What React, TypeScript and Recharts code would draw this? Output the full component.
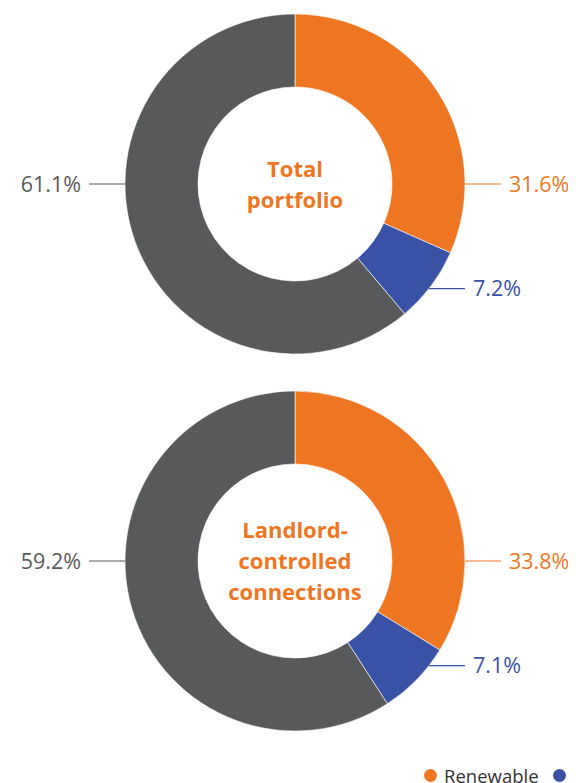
import React from "react";
import { PieChart, Pie, Cell, Legend } from "recharts";

const CATEGORIES = ["Renewable", "Non-renewable", "Unknown"];
const TOTAL_PORTFOLIO = [31.6, 7.2, 61.1];
const LANDLORD_CONTROLLED = [33.8, 7.1, 59.2];
const CENTER_TITLES = [
  ["Total", "portfolio"],
  ["Landlord-", "controlled", "connections"],
];

const COLORS = ["#EE7623", "#3A52A5", "#58595B"];
const LABEL_COLORS = ["#EE7623", "#3A52A5", "#5A5A5A"];
// angle (recharts degrees) where each slice's label leader line starts
const LABEL_ANGLES = [0, -38, -180];
const FONT = "'Open Sans', 'Noto Sans', sans-serif";

const OUTER = 170;
const INNER = 97;

const toRows = (values: number[]) =>
  CATEGORIES.map((name, i) => ({ name, value: values[i] }));

const renderLabel = (props: any) => {
  const { cx, cy, outerRadius, index, value } = props;
  const a = (LABEL_ANGLES[index] * Math.PI) / 180;
  const x = cx + outerRadius * Math.cos(a);
  const y = cy - outerRadius * Math.sin(a);
  const right = Math.cos(a) >= 0;
  const sign = right ? 1 : -1;
  const endX = x + sign * 36;
  return (
    <g key={`lbl-${index}`}>
      <line
        x1={x}
        y1={y}
        x2={endX}
        y2={y}
        stroke={LABEL_COLORS[index]}
        strokeWidth={1.2}
      />
      <text
        x={endX + sign * 8}
        y={y}
        dy={7.5}
        textAnchor={right ? "start" : "end"}
        fill={LABEL_COLORS[index]}
        fontSize={21.5}
        fontFamily={FONT}
      >
        {value.toFixed(1)}%
      </text>
    </g>
  );
};

const CenterTitle = ({ cx, cy, lines }: { cx: number; cy: number; lines: string[] }) => {
  const lh = 31;
  const top = cy - ((lines.length - 1) * lh) / 2;
  return (
    <text
      textAnchor="middle"
      fill="#EE7623"
      fontSize={22}
      fontWeight={700}
      fontFamily={FONT}
    >
      {lines.map((l, i) => (
        <tspan key={i} x={cx} y={top + i * lh} dy={8}>
          {l}
        </tspan>
      ))}
    </text>
  );
};

const LegendContent = () => (
  <div style={{ display: "flex", whiteSpace: "nowrap", fontFamily: FONT }}>
    {CATEGORIES.map((c, i) => (
      <span
        key={c}
        style={{ display: "flex", alignItems: "center", marginRight: 14 }}
      >
        <span
          style={{
            width: 13,
            height: 13,
            borderRadius: "50%",
            background: COLORS[i],
            display: "inline-block",
            marginRight: 7,
          }}
        />
        <span style={{ fontSize: 18.5, color: "#333333" }}>{c}</span>
      </span>
    ))}
  </div>
);

const App = () => {
  const cx = 287;
  const cys = [176, 553];
  const sets = [TOTAL_PORTFOLIO, LANDLORD_CONTROLLED];
  return (
    <div style={{ width: 568, height: 775, overflow: "hidden", position: "relative" }}>
      <PieChart
        width={820}
        height={800}
        margin={{ top: 0, right: 0, bottom: 0, left: 0 }}
      >
        {sets.map((vals, k) => (
          <Pie
            key={k}
            data={toRows(vals)}
            dataKey="value"
            nameKey="name"
            cx={cx}
            cy={cys[k]}
            outerRadius={OUTER}
            innerRadius={INNER}
            startAngle={90}
            endAngle={-270}
            stroke="#ffffff"
            strokeWidth={0.6}
            label={renderLabel}
            labelLine={false}
            isAnimationActive={false}
          >
            {CATEGORIES.map((c, i) => (
              <Cell key={c} fill={COLORS[i]} />
            ))}
          </Pie>
        ))}
        <CenterTitle cx={cx} cy={cys[0]} lines={CENTER_TITLES[0]} />
        <CenterTitle cx={cx} cy={cys[1]} lines={CENTER_TITLES[1]} />
        <Legend
          content={<LegendContent />}
          wrapperStyle={{ position: "absolute", left: 416, top: 755, width: 400 }}
        />
      </PieChart>
    </div>
  );
};

export default App;
